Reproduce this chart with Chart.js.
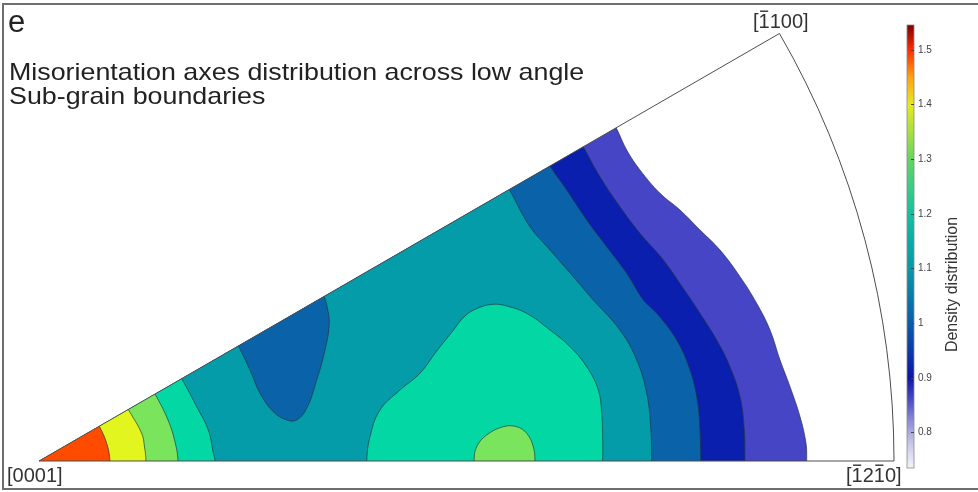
<!DOCTYPE html>
<html>
<head>
<meta charset="utf-8">
<script src="https://cdn.jsdelivr.net/npm/chart.js@4.4.1/dist/chart.umd.min.js"></script>
<style>
  html, body { margin: 0; padding: 0; background: #ffffff; }
  #wrap { width: 978px; height: 492px; position: relative; }
</style>
</head>
<body>
<div id="wrap"><canvas id="ipf"></canvas></div>
<script>
// ---- Inverse pole figure sector [0001] - [-12-10] - [-1100] ----
// Coordinates: apex [0001] at (0,0), [-12-10] at (1,0), sector of 30 degrees.
const sectorDeg = 30;

const panelLetter = 'e';
const titleLines = ['Misorientation axes distribution across low angle', 'Sub-grain boundaries'];
const cornerLabels = ['[0001]', '[-1100]', '[-12-10]'];   // '-' marks an overbar on the next digit

// Colour bar
const densityRange = [0.735, 1.545];
const densityTicks = [0.8, 0.9, 1, 1.1, 1.2, 1.3, 1.4, 1.5];
const densityTitle = 'Density distribution';
const barStops  = [0.735, 0.78, 0.82, 0.86, 0.90, 0.95, 1.00, 1.05, 1.10, 1.15, 1.20, 1.25, 1.30, 1.35, 1.40, 1.45, 1.50, 1.545];
const barColors = ['#f4f4fb', '#c6c6e9', '#8e8ed7', '#4b4bc3', '#0a14aa', '#0a3aa8', '#0a5ca8', '#0a7aa8', '#0a98a8',
                   '#0aaca6', '#14c0a2', '#3ccc86', '#66d462', '#a8e040', '#e6ea1c', '#ffa012', '#ff2a04', '#7a0000'];

// Filled contour colours (one per density band)
const bandColors = {
  purple: '#4545c5',
  navy:   '#0b1faf',
  blue:   '#0a62a8',
  teal:   '#049ca8',
  mint:   '#03d8a5',
  green:  '#7ae45c',
  yellow: '#e2f51f',
  red:    '#ff4b00'
};

// Contour lines, each running from the upper edge of the sector down to the lower edge
const edgePurple = [[0.675,0.3897],[0.6874,0.3637],[0.7029,0.3404],[0.7263,0.3131],[0.7497,0.2936],[0.7731,0.2702],
                    [0.7965,0.2468],[0.8199,0.2156],[0.8394,0.1844],[0.855,0.1532],[0.8667,0.1181],[0.8784,0.0869],
                    [0.8901,0.0518],[0.8971,0.0207],[0.8979,0]];
const edgeNavy   = [[0.6366,0.3676],[0.6561,0.3325],[0.6795,0.2974],[0.7029,0.2663],[0.7302,0.2351],[0.7575,0.1961],
                    [0.7731,0.1727],[0.7926,0.1415],[0.8082,0.1103],[0.8199,0.0752],[0.8246,0.0401],[0.8257,0]];
const edgeBlue   = [[0.5977,0.3451],[0.6172,0.317],[0.6406,0.2819],[0.664,0.2506],[0.6874,0.2195],[0.7068,0.1883],
                    [0.7225,0.1727],[0.7458,0.1415],[0.7614,0.1064],[0.7699,0.0713],[0.7731,0.0363],[0.7739,0]];
const edgeTeal   = [[0.5501,0.3176],[0.5743,0.274],[0.5977,0.2468],[0.6249,0.2156],[0.6483,0.1883],[0.6795,0.1532],
                    [0.6991,0.1181],[0.7108,0.0792],[0.7154,0.0401],[0.7166,0]];
const edgeMint   = [[0.1669,0.0964],[0.1844,0.0635],[0.198,0.0363],[0.2039,0.009],[0.2058,0]];
const edgeGreen  = [[0.1357,0.0783],[0.1509,0.048],[0.1591,0.0222],[0.1626,0]];
const edgeYellow = [[0.1044,0.0603],[0.1201,0.0324],[0.1234,0.0164],[0.1251,0]];
const edgeRed    = [[0.0705,0.0407],[0.0792,0.0207],[0.083,0]];

// Closed islands: one against the upper edge, two against the lower edge
const islandBlue  = [[0.2331,0.1346],[0.2468,0.1064],[0.2585,0.0792],[0.274,0.0577],[0.2897,0.048],[0.3014,0.048],
                     [0.3131,0.0616],[0.3248,0.0947],[0.3345,0.1298],[0.3395,0.1611],[0.3365,0.1825],[0.3333,0.1924]];
const islandMint  = [[0.3833,0],[0.3871,0.0284],[0.3988,0.0596],[0.4222,0.083],[0.4456,0.1026],[0.4643,0.1275],
                     [0.483,0.1509],[0.4982,0.1696],[0.5135,0.1789],[0.5313,0.1833],[0.547,0.1813],[0.5704,0.1727],
                     [0.5977,0.1532],[0.6211,0.1337],[0.6406,0.1103],[0.6542,0.083],[0.6581,0.0558],[0.6593,0.0246],[0.6593,0]];
const islandGreen = [[0.5088,0],[0.5119,0.0167],[0.5236,0.0304],[0.543,0.0401],[0.5587,0.0401],[0.5704,0.0324],
                     [0.5781,0.0167],[0.5801,0]];

// ---- region outlines (closed just outside the sector, the sector clip trims them) ----
const OUT = 0.04;
const rad = sectorDeg * Math.PI / 180;
const toPts = c => c.map(([x, y]) => ({ x, y }));
const aboveTop = p => ({ x: p.x - OUT * Math.sin(rad), y: p.y + OUT * Math.cos(rad) });
const belowBottom = p => ({ x: p.x, y: -OUT });

function regionLeftOf(curve) {
  const pts = toPts(curve);
  const t = pts[0], b = pts[pts.length - 1];
  return [aboveTop(t), ...pts, belowBottom(b), { x: -0.06, y: -OUT }, { x: -0.06, y: 0.03 }];
}
function islandOnTop(curve) {
  const pts = toPts(curve);
  return [aboveTop(pts[0]), ...pts, aboveTop(pts[pts.length - 1])];
}
function islandOnBottom(curve) {
  const pts = toPts(curve);
  return [belowBottom(pts[0]), ...pts, belowBottom(pts[pts.length - 1])];
}

const contourLine = 'rgba(35,55,60,0.85)';
function band(data, color) {
  return {
    data, showLine: true, fill: 'shape', tension: 0.4,
    backgroundColor: color, borderColor: contourLine, borderWidth: 0.8,
    pointRadius: 0, pointHoverRadius: 0
  };
}

// First dataset is painted last (on top)
const datasets = [
  band(regionLeftOf(edgeRed), bandColors.red),
  band(regionLeftOf(edgeYellow), bandColors.yellow),
  band(islandOnBottom(islandGreen), bandColors.green),
  band(regionLeftOf(edgeGreen), bandColors.green),
  band(islandOnBottom(islandMint), bandColors.mint),
  band(regionLeftOf(edgeMint), bandColors.mint),
  band(islandOnTop(islandBlue), bandColors.blue),
  band(regionLeftOf(edgeTeal), bandColors.teal),
  band(regionLeftOf(edgeBlue), bandColors.blue),
  band(regionLeftOf(edgeNavy), bandColors.navy),
  band(regionLeftOf(edgePurple), bandColors.purple)
];

const FONT = '"Liberation Sans", Arial, Helvetica, sans-serif';

function sectorPath(chart) {
  const { ctx, scales: { x, y } } = chart;
  const cx = x.getPixelForValue(0), cy = y.getPixelForValue(0);
  const r = x.getPixelForValue(1) - cx;
  ctx.beginPath();
  ctx.moveTo(cx, cy);
  ctx.lineTo(cx + r, cy);
  ctx.arc(cx, cy, r, 0, -rad, true);
  ctx.closePath();
}

// Miller-Bravais label with overbars
function drawIndex(ctx, label, x, y) {
  ctx.font = '20px ' + FONT;
  ctx.fillStyle = '#333333';
  ctx.textBaseline = 'alphabetic';
  ctx.textAlign = 'left';
  let cur = x, bar = false;
  for (const ch of label) {
    if (ch === '-') { bar = true; continue; }
    const w = ctx.measureText(ch).width;
    ctx.fillText(ch, cur, y);
    if (bar) {
      ctx.fillRect(cur + 1.5, y - 17.5, w - 3, 1.4);
      bar = false;
    }
    cur += w;
  }
}

const sectorPlugin = {
  id: 'sector',
  beforeDraw(chart) {
    const ctx = chart.ctx;
    ctx.save();
    ctx.fillStyle = '#ffffff';
    ctx.fillRect(0, 0, chart.width, chart.height);
    ctx.restore();
  },
  beforeDatasetsDraw(chart) {
    chart.ctx.save();
    sectorPath(chart);
    chart.ctx.clip();
  },
  afterDatasetsDraw(chart) {
    const ctx = chart.ctx;
    ctx.restore();
    ctx.save();
    sectorPath(chart);
    ctx.lineWidth = 1;
    ctx.strokeStyle = '#4d4d4d';
    ctx.stroke();
    ctx.restore();
  },
  afterDraw(chart) {
    const ctx = chart.ctx;
    ctx.save();

    // outer frame
    ctx.strokeStyle = '#6e6e6e';
    ctx.lineWidth = 2;
    ctx.beginPath();
    ctx.moveTo(978, 4); ctx.lineTo(3, 4); ctx.lineTo(3, 489); ctx.lineTo(978, 489);
    ctx.stroke();

    // panel letter and title (title set in a horizontally widened face)
    ctx.fillStyle = '#222222';
    ctx.textAlign = 'left';
    ctx.textBaseline = 'alphabetic';
    ctx.font = '31px ' + FONT;
    ctx.fillText(panelLetter, 8, 32);
    ctx.save();
    ctx.translate(9, 0);
    ctx.scale(1.117, 1);
    ctx.font = '24px ' + FONT;
    ctx.fillText(titleLines[0], 0, 80);
    ctx.fillText(titleLines[1], 0, 104);
    ctx.restore();

    // corner directions
    drawIndex(ctx, cornerLabels[0], 7, 482);
    drawIndex(ctx, cornerLabels[1], 753, 28);
    drawIndex(ctx, cornerLabels[2], 846, 482);

    // colour bar
    const bx = 907, bw = 7, top = 25, bottom = 468;
    const [vmin, vmax] = densityRange;
    const yOf = v => bottom - (v - vmin) / (vmax - vmin) * (bottom - top);
    const grad = ctx.createLinearGradient(0, bottom, 0, top);
    barStops.forEach((v, i) => grad.addColorStop((v - vmin) / (vmax - vmin), barColors[i]));
    ctx.fillStyle = grad;
    ctx.fillRect(bx, top, bw, bottom - top);
    ctx.strokeStyle = '#8a8a8a';
    ctx.lineWidth = 0.8;
    ctx.strokeRect(bx, top, bw, bottom - top);

    ctx.font = '10px ' + FONT;
    ctx.fillStyle = '#444444';
    ctx.textBaseline = 'middle';
    ctx.strokeStyle = '#444444';
    ctx.lineWidth = 1;
    densityTicks.forEach(v => {
      const yy = Math.round(yOf(v)) + 0.5;
      ctx.beginPath();
      ctx.moveTo(bx + bw - 3, yy); ctx.lineTo(bx + bw, yy);
      ctx.stroke();
      ctx.fillText(String(v), 918, yy);
    });

    // colour bar title
    ctx.save();
    ctx.translate(957, 284.5);
    ctx.rotate(-Math.PI / 2);
    ctx.font = '16px ' + FONT;
    ctx.fillStyle = '#333333';
    ctx.textAlign = 'center';
    ctx.textBaseline = 'alphabetic';
    ctx.fillText(densityTitle, 0, 0);
    ctx.restore();

    ctx.restore();
  }
};

new Chart(document.getElementById('ipf'), {
  type: 'scatter',
  data: { datasets },
  options: {
    responsive: true,
    maintainAspectRatio: false,
    animation: false,
    events: [],
    layout: { padding: { left: 39, right: 84, top: 33.5, bottom: 31 } },
    scales: {
      x: { type: 'linear', min: 0, max: 1, display: false },
      y: { type: 'linear', min: 0, max: 0.5, display: false }
    },
    plugins: {
      legend: { display: false },
      tooltip: { enabled: false },
      title: { display: false }
    }
  },
  plugins: [sectorPlugin]
});
</script>
</body>
</html>
